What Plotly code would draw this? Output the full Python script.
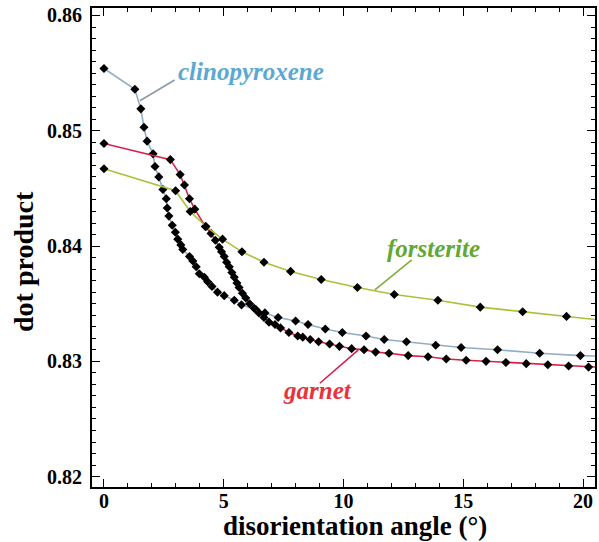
import plotly.graph_objects as go

# ---- data ----
cpx_x = [0, 1.29, 1.54, 1.67, 1.80, 2.05, 2.13, 2.29, 2.46, 2.60, 2.64, 2.71, 2.85, 2.98,
         3.08, 3.21, 3.29, 3.57, 3.71, 3.85, 3.98, 4.19, 4.33, 4.51, 4.74, 5.02, 5.44,
         5.74, 6.34, 6.72, 7.27, 8.00, 8.52, 9.24, 9.95, 10.94, 11.70, 12.63, 13.85,
         14.91, 16.43, 18.19, 19.89, 21.5]
cpx_y = [0.8554, 0.8536, 0.8519, 0.8503, 0.8491, 0.8480, 0.8469, 0.8460, 0.8449, 0.8441,
         0.8433, 0.8426, 0.8418, 0.8412, 0.8406, 0.8401, 0.8397, 0.8391, 0.8387, 0.8382,
         0.8376, 0.8373, 0.8369, 0.8365, 0.8360, 0.8357, 0.8353, 0.8349, 0.8345, 0.8342,
         0.8338, 0.8335, 0.8332, 0.8328, 0.8325, 0.8322, 0.8319, 0.8317, 0.8314, 0.8312,
         0.8310, 0.8307, 0.8305, 0.8304]

grt_x = [0, 2.77, 3.18, 3.36, 3.57, 3.79, 4.23, 4.47, 4.65, 4.81, 4.91, 5.02, 5.12, 5.23,
         5.34, 5.44, 5.55, 5.64, 5.78, 5.92, 6.08, 6.27, 6.47, 6.68, 6.89, 7.14, 7.37,
         7.72, 8.09, 8.30, 8.61, 8.96, 9.42, 9.83, 10.34, 10.86, 11.34, 11.90, 12.70,
         13.53, 14.29, 15.12, 15.95, 16.78, 17.63, 18.53, 19.40, 20.23, 21.5]
grt_y = [0.8489, 0.8475, 0.8462, 0.8453, 0.8441, 0.8432, 0.8417, 0.8411, 0.8405, 0.8399,
         0.8395, 0.8391, 0.8386, 0.8382, 0.8377, 0.8373, 0.8368, 0.8364, 0.8359, 0.8355,
         0.8350, 0.8346, 0.8342, 0.8338, 0.8334, 0.8332, 0.8329, 0.8325, 0.8322, 0.8321,
         0.8319, 0.8317, 0.8315, 0.8313, 0.8311, 0.8310, 0.8308, 0.8307, 0.8305, 0.8304,
         0.8302, 0.8301, 0.8300, 0.8299, 0.8298, 0.8297, 0.8296, 0.8295, 0.8294]

fo_x = [0, 2.99, 3.60, 4.26, 4.95, 5.76, 6.68, 7.79, 9.07, 10.58, 12.12, 13.94, 15.71,
        17.48, 19.31, 21.5]
fo_y = [0.8467, 0.8448, 0.8430, 0.8417, 0.8406, 0.8395, 0.8386, 0.8378, 0.8371, 0.8364,
        0.8358, 0.8353, 0.8347, 0.8343, 0.8339, 0.8334]

x_ticks = [0, 5, 10, 15, 20]
y_ticks = [0.82, 0.83, 0.84, 0.85, 0.86]
x_title = "disorientation angle (°)"
y_title = "dot product"

# labels: (text, text x, text y, leader x0, y0, x1, y1, text colour, line colour)
labels = [
    ("clinopyroxene", 6.15, 0.8551, 1.50, 0.8526, 2.95, 0.8544, "#5ba8d2", "#8c9aa6"),
    ("forsterite", 13.74, 0.8398, 11.31, 0.8362, 12.85, 0.8388, "#62a832", "#7fae3a"),
    ("garnet", 8.90, 0.8275, 9.01, 0.8281, 10.62, 0.8310, "#e8333b", "#d41f4a"),
]

FONT = "Liberation Serif"

fig = go.Figure()
series = [
    (cpx_x, cpx_y, "#93aec4"),
    (grt_x, grt_y, "#d42347"),
    (fo_x, fo_y, "#a9c23a"),
]
for xs, ys, col in series:
    fig.add_trace(go.Scatter(
        x=xs, y=ys, mode="lines+markers",
        line=dict(color=col, width=1.6),
        marker=dict(symbol="diamond", size=7, color="black"),
        showlegend=False,
    ))

for txt, tx, ty, x0, y0, x1, y1, tcol, lcol in labels:
    fig.add_annotation(x=tx, y=ty, text=txt, showarrow=False,
                       font=dict(family=FONT, size=25, color=tcol,
                                 weight="bold", style="italic"))
    fig.add_shape(type="line", x0=x0, y0=y0, x1=x1, y1=y1,
                  line=dict(color=lcol, width=1.6))

# axis titles (placed as paper annotations to match the reference offsets)
fig.add_annotation(xref="paper", yref="paper", x=0.523, y=-0.0814,
                   xanchor="center", yanchor="middle", showarrow=False,
                   text=x_title,
                   font=dict(family=FONT, size=27, color="black", weight="bold"))
fig.add_annotation(xref="paper", yref="paper", x=-0.135, y=0.47,
                   xanchor="center", yanchor="middle", showarrow=False,
                   text=y_title, textangle=-90,
                   font=dict(family=FONT, size=28, color="black", weight="bold"))

axis_common = dict(
    showgrid=False, zeroline=False, showline=True, linecolor="black",
    linewidth=2, mirror="allticks", ticks="inside", ticklen=8,
    tickcolor="black", tickwidth=1,
    tickfont=dict(family=FONT, size=20, color="black", weight="bold"),
)

fig.update_xaxes(
    range=[-0.5, 20.5], tickvals=x_ticks,
    minor=dict(ticks="inside", ticklen=4, dtick=1, tick0=0, tickcolor="black"),
    ticklabelstandoff=-5,
    **axis_common,
)
fig.update_yaxes(
    range=[0.8191, 0.86065], tickvals=y_ticks,
    tickformat=".2f",
    minor=dict(ticks="inside", ticklen=4, dtick=0.001, tick0=0.82, tickcolor="black"),
    ticklabelstandoff=4,
    **axis_common,
)

fig.update_layout(
    width=599, height=542,
    margin=dict(l=92, r=2, t=8, b=55),
    paper_bgcolor="white", plot_bgcolor="white",
)

fig.write_html("out.html")
